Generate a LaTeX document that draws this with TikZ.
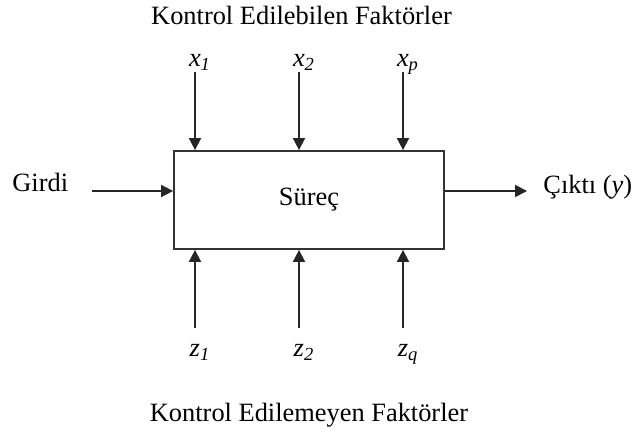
\documentclass[tikz,border=0pt]{standalone}
\usepackage{fontspec}
\setmainfont{Liberation Serif}
\usepackage{tikz}
\usetikzlibrary{positioning,arrows.meta}

\begin{document}
\begin{tikzpicture}[
  x=0.5pt, y=-0.5pt,
  font=\fontsize{13.2}{16}\selectfont,
  procbox/.style={draw=black!80, line width=0.9pt, minimum width=135pt, minimum height=49pt, inner sep=0pt},
  lbl/.style={inner sep=0pt, anchor=base},
  arr/.style={-{Triangle[length=6pt, width=6pt]}, line width=0.9pt, color=black!85},
]
  \useasboundingbox (0,0) rectangle (636,432);
  % titles
  \node[lbl] (ctitle) at (301.5,25) {Kontrol Edilebilen Faktörler};
  \node[lbl] (utitle) at (309,421) {Kontrol Edilemeyen Faktörler};
  % process box
  \node[procbox] (box) at (309,200) {\raisebox{-2.5pt}{Süreç}};
  % input + output
  \node[lbl, anchor=base west] (girdi) at (12,192) {Girdi};
  \node[lbl, anchor=base west] (cikti) at (543,194) {Çıktı (\textit{y})};
  \coordinate (inp) at (92,191);
  \coordinate (outp) at (527,191);
  % controllable factors
  \node[lbl] (x1) at (200,67) {\textit{x}\textsubscript{\textit{1}}};
  \node[lbl] (x2) at (304,67) {\textit{x}\textsubscript{\textit{2}}};
  \node[lbl] (xp) at (408,67) {\textit{x}\textsubscript{\textit{p}}};
  \coordinate (x1t) at (195,72);
  \coordinate (x2t) at (299,72);
  \coordinate (xpt) at (403,72);
  % uncontrollable factors
  \node[lbl] (z1) at (200,357) {\textit{z}\textsubscript{\textit{1}}};
  \node[lbl] (z2) at (304,357) {\textit{z}\textsubscript{\textit{2}}};
  \node[lbl] (zq) at (408,357) {\textit{z}\textsubscript{\textit{q}}};
  \coordinate (z1t) at (195,328);
  \coordinate (z2t) at (299,328);
  \coordinate (zqt) at (403,328);
  % arrows
  \draw[arr] (inp) -- (inp -| box.west);
  \draw[arr] (outp -| box.east) -- (outp);
  \draw[arr] (x1t) -- (x1t |- box.north);
  \draw[arr] (x2t) -- (x2t |- box.north);
  \draw[arr] (xpt) -- (xpt |- box.north);
  \draw[arr] (z1t) -- (z1t |- box.south);
  \draw[arr] (z2t) -- (z2t |- box.south);
  \draw[arr] (zqt) -- (zqt |- box.south);
\end{tikzpicture}
\end{document}
